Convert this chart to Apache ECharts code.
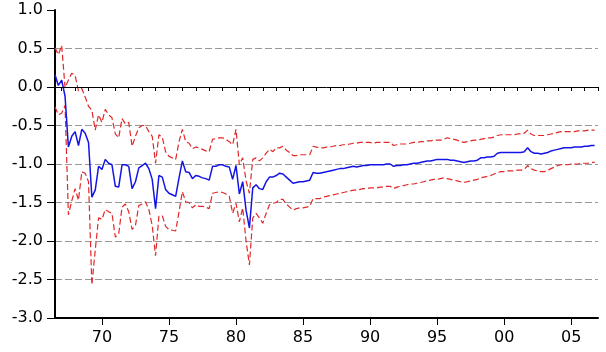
<!DOCTYPE html>
<html>
<head>
<meta charset="utf-8">
<script src="https://cdn.jsdelivr.net/npm/echarts@6/dist/echarts.min.js"></script>
<style>
  html, body { margin: 0; padding: 0; background: #fff; }
  #chart { width: 606px; height: 352px; }
</style>
</head>
<body>
<div id="chart"></div>
<script>
// 季度数据，从 1966Q3 开始
const startYear = 1966.5;

const center = [
  0.16, 0.02, 0.09, -0.12, -0.78, -0.64, -0.58, -0.76, -0.55, -0.60,
  -0.72, -1.43, -1.34, -1.03, -1.07, -0.94, -0.99, -1.01, -1.29, -1.30,
  -1.01, -1.01, -1.03, -1.32, -1.23, -1.05, -1.02, -0.99, -1.06, -1.20,
  -1.58, -1.15, -1.17, -1.33, -1.38, -1.40, -1.42, -1.18, -0.96, -1.10,
  -1.11, -1.19, -1.15, -1.16, -1.18, -1.19, -1.21, -1.03, -1.03, -1.01,
  -1.01, -1.03, -1.04, -1.20, -1.02, -1.39, -1.23, -1.60, -1.83, -1.31,
  -1.27, -1.32, -1.33, -1.23, -1.17, -1.17, -1.15, -1.12, -1.13, -1.17,
  -1.21, -1.25, -1.24, -1.23, -1.23, -1.22, -1.21, -1.11, -1.12, -1.12,
  -1.11, -1.10, -1.09, -1.08, -1.07, -1.06, -1.06, -1.05, -1.04, -1.03,
  -1.04, -1.03, -1.02, -1.02, -1.01, -1.01, -1.01, -1.01, -1.01, -1.00,
  -1.00, -1.03, -1.02, -1.02, -1.01, -1.01, -1.00, -0.99, -0.99, -0.98,
  -0.97, -0.96, -0.96, -0.95, -0.94, -0.94, -0.94, -0.94, -0.95, -0.95,
  -0.96, -0.97, -0.98, -0.97, -0.96, -0.96, -0.95, -0.92, -0.92, -0.91,
  -0.91, -0.90, -0.86, -0.85, -0.85, -0.85, -0.85, -0.85, -0.85, -0.85,
  -0.84, -0.79, -0.84, -0.86, -0.86, -0.87, -0.86, -0.85, -0.83, -0.82,
  -0.81, -0.80, -0.79, -0.79, -0.79, -0.78, -0.78, -0.78, -0.77, -0.77,
  -0.76, -0.76
];

const upper = [
  0.51, 0.42, 0.54, -0.01, 0.09, 0.18, 0.15, -0.05, -0.02, -0.13,
  -0.25, -0.30, -0.56, -0.36, -0.46, -0.29, -0.36, -0.40, -0.61, -0.66,
  -0.41, -0.48, -0.46, -0.77, -0.64, -0.53, -0.50, -0.50, -0.58, -0.64,
  -0.99, -0.62, -0.65, -0.84, -0.90, -0.92, -0.94, -0.71, -0.55, -0.71,
  -0.73, -0.80, -0.78, -0.79, -0.81, -0.83, -0.84, -0.68, -0.67, -0.66,
  -0.66, -0.68, -0.71, -0.75, -0.55, -1.01, -0.92, -1.22, -1.38, -0.94,
  -0.92, -0.96, -0.92, -0.86, -0.81, -0.84, -0.79, -0.79, -0.77, -0.82,
  -0.85, -0.89, -0.89, -0.88, -0.88, -0.88, -0.88, -0.77, -0.78, -0.79,
  -0.79, -0.78, -0.78, -0.77, -0.76, -0.76, -0.75, -0.75, -0.74, -0.73,
  -0.73, -0.72, -0.72, -0.72, -0.72, -0.73, -0.72, -0.72, -0.72, -0.72,
  -0.72, -0.76, -0.75, -0.74, -0.74, -0.74, -0.73, -0.72, -0.72, -0.71,
  -0.71, -0.70, -0.70, -0.69, -0.69, -0.69, -0.68, -0.66, -0.67, -0.68,
  -0.69, -0.71, -0.72, -0.71, -0.70, -0.69, -0.69, -0.68, -0.67, -0.66,
  -0.66, -0.65, -0.63, -0.62, -0.62, -0.62, -0.62, -0.62, -0.61, -0.61,
  -0.60, -0.56, -0.61, -0.63, -0.63, -0.63, -0.63, -0.62, -0.61, -0.60,
  -0.59, -0.58, -0.58, -0.58, -0.58, -0.58, -0.57, -0.57, -0.57, -0.56,
  -0.56, -0.56
];

const lower = [
  -0.26, -0.36, -0.34, -0.24, -1.66, -1.48, -1.32, -1.47, -1.10, -1.12,
  -1.23, -2.57, -2.12, -1.70, -1.72, -1.59, -1.62, -1.64, -1.95, -1.91,
  -1.56, -1.52, -1.62, -1.85, -1.80, -1.54, -1.52, -1.49, -1.59, -1.80,
  -2.19, -1.68, -1.67, -1.81, -1.85, -1.86, -1.87, -1.62, -1.36, -1.49,
  -1.50, -1.57, -1.53, -1.55, -1.55, -1.56, -1.58, -1.38, -1.37, -1.36,
  -1.37, -1.39, -1.42, -1.64, -1.51, -1.75, -1.57, -2.00, -2.31, -1.70,
  -1.64, -1.70, -1.77, -1.64, -1.53, -1.51, -1.50, -1.46, -1.46, -1.52,
  -1.56, -1.60, -1.58, -1.57, -1.57, -1.56, -1.55, -1.45, -1.45, -1.45,
  -1.43, -1.42, -1.41, -1.40, -1.39, -1.38, -1.37, -1.36, -1.35, -1.34,
  -1.34, -1.33, -1.32, -1.32, -1.31, -1.31, -1.31, -1.30, -1.30, -1.29,
  -1.29, -1.32, -1.30, -1.29, -1.28, -1.27, -1.26, -1.26, -1.25, -1.24,
  -1.23, -1.22, -1.21, -1.20, -1.20, -1.19, -1.18, -1.19, -1.20, -1.21,
  -1.22, -1.23, -1.24, -1.23, -1.22, -1.21, -1.20, -1.18, -1.17, -1.16,
  -1.15, -1.13, -1.11, -1.10, -1.10, -1.09, -1.09, -1.09, -1.08, -1.08,
  -1.07, -1.02, -1.06, -1.08, -1.09, -1.10, -1.10, -1.08, -1.06, -1.04,
  -1.02, -1.01, -1.01, -1.01, -1.00, -1.00, -1.00, -0.99, -0.99, -0.99,
  -0.98, -0.98
];

// 刻度
const labelYears = [1970, 1975, 1980, 1985, 1990, 1995, 2000, 2005];
const minorYears = [];
for (let y = 1967; y <= 2007; y++) minorYears.push(y);

const font = 'DejaVu Sans';

function toPoints(arr) {
  return arr.map((v, i) => [startYear + i / 4, v]);
}

const myChart = echarts.init(document.getElementById('chart'));

const option = {
  animation: false,
  backgroundColor: '#fff',
  grid: { left: 55, right: 8, top: 10, bottom: 34 },
  xAxis: [
    {
      type: 'value',
      min: 1966.5,
      max: 2007,
      axisLine: { show: true, onZero: false, lineStyle: { color: '#000', width: 2 } },
      axisTick: { show: true, length: 7, customValues: labelYears, lineStyle: { color: '#000', width: 1 } },
      axisLabel: {
        customValues: labelYears,
        margin: 12,
        color: '#000',
        fontFamily: font,
        fontSize: 16,
        formatter: v => String(Math.round(v) % 100).padStart(2, '0')
      },
      splitLine: { show: false }
    },
    {
      type: 'value',
      position: 'bottom',
      min: 1966.5,
      max: 2007,
      axisLine: { show: false },
      axisTick: { show: true, length: 4, customValues: minorYears, lineStyle: { color: '#000', width: 1 } },
      axisLabel: { show: false },
      splitLine: { show: false }
    }
  ],
  yAxis: {
    type: 'value',
    min: -3,
    max: 1,
    interval: 0.5,
    axisLine: { show: true, lineStyle: { color: '#000', width: 2 } },
    axisTick: { show: true, length: 8, lineStyle: { color: '#000', width: 1 } },
    axisLabel: {
      margin: 12,
      color: '#000',
      fontFamily: font,
      fontSize: 16,
      formatter: v => v.toFixed(1)
    },
    splitLine: {
      show: true,
      lineStyle: {
        // -3.0 .. 1.0，0 线另外画成实线
        color: ['rgba(0,0,0,0)', '#999', '#999', '#999', '#999', '#999', 'rgba(0,0,0,0)', '#999', 'rgba(0,0,0,0)'],
        type: [7, 3],
        width: 1
      }
    }
  },
  series: [
    {
      name: 'lower',
      type: 'line',
      data: toPoints(lower),
      showSymbol: false,
      lineStyle: { color: '#e02828', width: 1.2, type: [6, 3] }
    },
    {
      name: 'upper',
      type: 'line',
      data: toPoints(upper),
      showSymbol: false,
      lineStyle: { color: '#e02828', width: 1.2, type: [6, 3] }
    },
    {
      name: 'center',
      type: 'line',
      data: toPoints(center),
      showSymbol: false,
      lineStyle: { color: '#1414e6', width: 1.5 },
      markLine: {
        silent: true,
        symbol: 'none',
        label: { show: false },
        lineStyle: { color: '#000', type: 'solid', width: 1 },
        data: [{ yAxis: 0 }]
      }
    }
  ]
};

myChart.setOption(option);
</script>
</body>
</html>
